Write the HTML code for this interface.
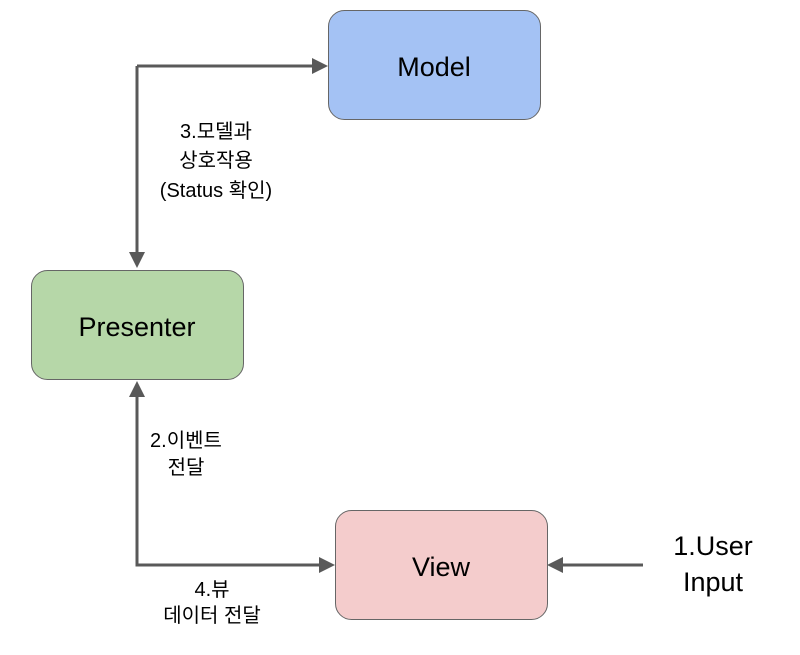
<!DOCTYPE html>
<html><head><meta charset="utf-8"><style>
body{margin:0;background:#fff;width:800px;height:650px;overflow:hidden}
svg text{font-family:"Liberation Sans","Noto Sans CJK KR",sans-serif;fill:#000}
</style></head><body>
<svg width="800" height="650" viewBox="0 0 800 650">
<g fill="none" stroke="#595959" stroke-width="3">
<path d="M137,66 L312,66"/><path d="M312,58 L328,66 L312,74z" fill="#595959" stroke="none"/>
<path d="M137,66 L137,252"/><path d="M129,252 L137,268 L145,252z" fill="#595959" stroke="none"/>
<path d="M137,397 L137,565 L319,565"/><path d="M129,397 L137,381 L145,397z" fill="#595959" stroke="none"/>
<path d="M319,557 L335,565 L319,573z" fill="#595959" stroke="none"/>
<path d="M643,565 L563,565"/><path d="M563,557 L547,565 L563,573z" fill="#595959" stroke="none"/>
</g>
<rect x="328.5" y="10.5" width="212" height="109" rx="16" fill="#a4c2f4" stroke="#666" stroke-width="1"/>
<rect x="31.5" y="270.5" width="212" height="109" rx="16" fill="#b6d7a8" stroke="#666" stroke-width="1"/>
<rect x="335.5" y="510.5" width="212" height="109" rx="16" fill="#f4cccc" stroke="#666" stroke-width="1"/>
<text x="434" y="76" font-size="27" text-anchor="middle">Model</text>
<text x="137" y="336" font-size="27" text-anchor="middle">Presenter</text>
<text x="441" y="576" font-size="27" text-anchor="middle">View</text>
<text x="713" y="555" font-size="27" text-anchor="middle">1.User</text>
<text x="713" y="591" font-size="27" text-anchor="middle">Input</text>
<g font-size="20" text-anchor="middle">
<text x="216" y="138">3.모델과</text>
<text x="216" y="167">상호작용</text>
<text x="216" y="197">(Status 확인)</text>
<text x="186" y="447">2.이벤트</text>
<text x="186" y="474">전달</text>
<text x="212" y="596">4.뷰</text>
<text x="212" y="622">데이터 전달</text>
</g>
</svg>
</body></html>
